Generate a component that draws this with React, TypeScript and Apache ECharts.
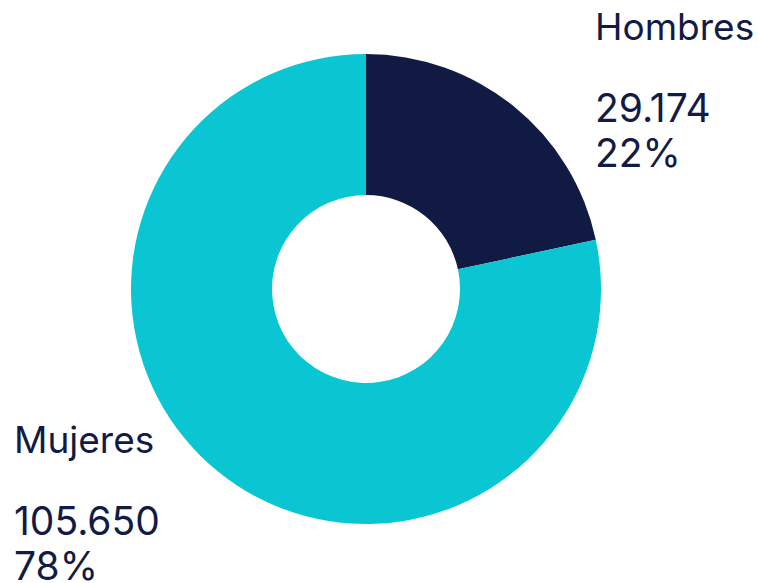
import React, { useEffect, useRef } from "react";
import * as echarts from "echarts";

const categories = ["Hombres", "Mujeres"];
const values = [29174, 105650];
const colors = ["#111a43", "#0ac6d2"];

const fmt = (n: number) => String(n).replace(/\B(?=(\d{3})+(?!\d))/g, ".");

export default function App() {
  const ref = useRef<HTMLDivElement>(null);
  useEffect(() => {
    if (!ref.current) return;
    const chart = echarts.init(ref.current, null, { renderer: "svg" });
    const total = values.reduce((a, b) => a + b, 0);
    const labelPos = [
      { x: 595, y: 3 },
      { x: 14, y: 416 },
    ];
    chart.setOption({
      animation: false,
      backgroundColor: "#ffffff",
      series: [
        {
          type: "pie",
          center: [366, 289],
          radius: [94, 235],
          startAngle: 90,
          clockwise: true,
          silent: true,
          data: categories.map((name, i) => ({
            name,
            value: values[i],
            itemStyle: { color: colors[i] },
          })),
          label: {
            show: true,
            position: "outside",
            color: "#121b45",
            fontFamily: "Inter",
            formatter: (p: any) =>
              `{name|${p.name}}\n{gap|}\n{val|${fmt(p.value)}}\n{pct|${Math.round(
                (p.value / total) * 100
              )}%}`,
            rich: {
              name: { fontSize: 37, lineHeight: 47, fontFamily: "Inter", color: "#121b45" },
              gap: { fontSize: 10, lineHeight: 32 },
              val: { fontSize: 39, lineHeight: 50, fontFamily: "Inter", color: "#121b45" },
              pct: { fontSize: 39, lineHeight: 40, fontFamily: "Inter", color: "#121b45" },
            },
          },
          labelLine: { show: false },
          labelLayout: (params: any) => ({
            x: labelPos[params.dataIndex].x,
            y: labelPos[params.dataIndex].y,
            align: "left",
            verticalAlign: "top",
          }),
        },
      ],
    });
    return () => chart.dispose();
  }, []);
  return (
    <div
      ref={ref}
      style={{ position: "fixed", left: 0, top: 0, width: 758, height: 583 }}
    />
  );
}
